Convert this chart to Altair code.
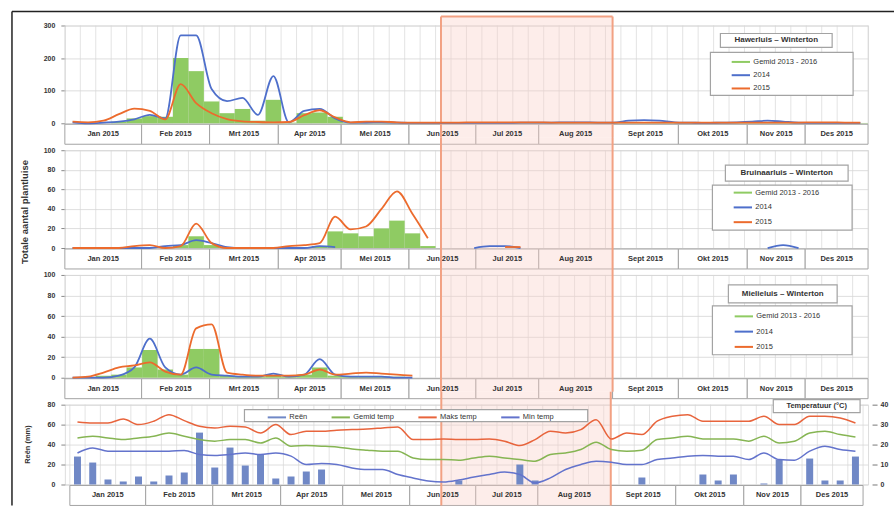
import altair as alt
import pandas as pd

# ---------------- data ----------------
weeks = list(range(52))
week_edges = list(range(53))
months = ["Jan 2015", "Feb 2015", "Mrt 2015", "Apr 2015", "Mei 2015", "Jun 2015",
          "Jul 2015", "Aug 2015", "Sept 2015", "Okt 2015", "Nov 2015", "Des 2015"]
month_edges = [0, 4.97, 9.37, 13.82, 17.89, 22.28, 26.61, 30.68, 35.46, 39.72, 44.18, 47.93, 52.0]
highlight = [24.35, 35.46]

series_names = ["Gemid 2013 - 2016", "2014", "2015"]
weather_names = ["Reën", "Gemid temp", "Maks temp", "Min temp"]

haw_gem = [0, 0, 0, 5, 15, 22, 20, 200, 160, 67, 31, 44, 8, 72, 2, 31, 33, 20, 2, 2,
           2, 1, 1, 1, 1, 1, 1, 1, 1, 1, 1, 1, 2, 2, 2, 2, 3, 3, 2, 2,
           1, 1, 1, 2, 3, 3, 2, 1, 1, 1, 1, 1]
haw_2014 = [3, 0, 2, 5, 12, 26, 15, 270, 270, 105, 68, 78, 26, 145, 3, 38, 44, 15, 2, 2,
            3, 2, 1, 1, 1, 1, 1, 1, 1, 2, 2, 2, 3, 3, 2, 2, 8, 10, 8, 3,
            2, 1, 2, 3, 5, 8, 5, 2, 1, 1, 1, 1]
haw_2015 = [5, 3, 8, 28, 45, 38, 12, 120, 62, 31, 13, 6, 4, 3, 4, 25, 40, 18, 3, 5,
            5, 3, 2, 2, 2, 2, 3, 3, 3, 3, 3, 2, 2, 2, 2, 2, 2, 2, 2, 2,
            2, 2, 2, 2, 2, 2, 2, 2, 3, 3, 2, 2]

bru_gem = [0, 0, 0, 0, 0, 0, 0, 3, 12, 3, 0, 0, 0, 0, 0, 0, 2, 17, 15, 12,
           20, 28, 15, 2, 0, 0, 0, 0, 0, 0, 0, 0, 0, 0, 0, 0, 0, 0, 0, 0,
           0, 0, 0, 0, 0, 0, 0, 0, 0, 0, 0, 0]
bru_2014 = [0, 0, 0, 0, 0, 0, 2, 3, 8, 5, 1, 0, 0, 0, 0, 0, 2, 1,
            None, None, None, None, None, None, None, None,
            0, 2, 2, 0,
            None, None, None, None, None, None, None, None, None, None, None, None, None, None, None,
            0, 3, 0, None, None, None, None]
bru_2015 = [0, 0, 0, 0, 2, 3, 0, 2, 25, 5, 0, 0, 0, 0, 2, 3, 5, 32, 19, 22,
            40, 58, 35, 10, None, None, None, None, 1, 1,
            None, None, None, None, None, None, None, None, None, None, None,
            None, None, None, None, None, None, None, None, None, None, None]

mie_gem = [0, 0, 2, 3, 10, 27, 8, 3, 28, 28, 2, 1, 1, 2, 1, 3, 10, 2, 1, 1,
           1, 1, 0, 0, 0, 0, 0, 0, 0, 0, 0, 0, 0, 0, 0, 0, 0, 0, 0, 0,
           0, 0, 0, 0, 0, 0, 0, 0, 0, 0, 0, 0]
mie_2014 = [0, 0, 0, 2, 10, 38, 10, 3, 10, 3, 2, 1, 1, 4, 1, 3, 18, 3, 1, 1,
            1, 0, 0] + [None] * 29
mie_2015 = [0, 1, 5, 10, 12, 15, 6, 3, 48, 52, 5, 3, 2, 2, 2, 3, 8, 3, 4, 5,
            4, 3, 2] + [None] * 29

rain = [28, 22, 5, 3, 8, 3, 9, 12, 52, 17, 37, 19, 30, 6, 8, 13, 15, 0, 0, 0,
        0, 0, 0, 0, 0, 4, 0, 0, 0, 20, 4, 0, 0, 0, 0, 0, 0, 7, 0, 0,
        0, 10, 4, 10, 0, 1, 25, 0, 26, 4, 4, 28]
t_max = [31.3, 30.8, 30.8, 32.8, 30.0, 31.7, 35.0, 32.0, 29.2, 28.3,
         29.2, 28.8, 25.8, 30.0, 25.0, 26.7, 26.7, 27.2, 27.5, 27.8,
         28.3, 28.8, 22.5, 22.5, 22.8, 22.5, 22.5, 22.8, 21.7, 19.5,
         22.5, 26.7, 25.8, 27.5, 32.5, 22.8, 25.8, 25.0, 31.7, 34.2,
         35.0, 31.7, 31.7, 31.7, 31.7, 34.2, 30.0, 30.0, 34.2, 34.2, 33.3, 30.8]
t_gem = [23.3, 24.2, 23.3, 22.5, 23.3, 24.2, 25.8, 24.2, 22.5, 21.7,
         22.5, 22.5, 20.8, 23.3, 19.2, 19.5, 19.2, 18.8, 17.8, 17.2,
         16.7, 16.7, 13.3, 12.5, 12.5, 12.2, 13.3, 14.2, 13.3, 12.5,
         11.7, 15.0, 15.8, 17.5, 21.2, 17.5, 16.7, 17.2, 22.5, 23.3,
         24.2, 22.8, 22.8, 22.8, 21.7, 24.2, 20.8, 21.7, 25.8, 26.7, 25.0, 23.8]
t_min = [15.8, 18.3, 16.7, 16.7, 16.7, 16.7, 16.7, 17.0, 15.0, 14.5,
         15.0, 15.8, 15.0, 15.8, 14.2, 10.0, 10.5, 10.0, 8.3, 7.5,
         7.5, 5.0, 3.3, 1.7, 1.2, 2.2, 3.8, 5.0, 6.2, 5.0,
         0.8, 3.3, 7.5, 10.0, 11.7, 11.2, 10.0, 10.0, 12.5, 13.3,
         14.2, 14.5, 14.2, 14.2, 12.5, 15.8, 12.5, 12.2, 16.7, 19.2, 17.5, 16.7]

# ---------------- style ----------------
FONT = "Liberation Sans"
W = 805
GRID = "#d6d6d6"
BORDER = "#a3a3a3"
TXT = "#333333"
GREEN_BAR = "#8fcb63"
BLUE = "#4e6fcb"
ORANGE = "#ec6b2d"
RAIN = "#7088c6"
T_GEM = "#86b553"
T_MAX = "#e8643c"
T_MIN = "#6373cc"
PINK_FILL = "#f9cfc9"
PINK_EDGE = "#f2a183"

xs = alt.Scale(domain=[0, 52], nice=False, zero=False)
one = pd.DataFrame({"k": [0]})


def segments(values, name):
    rows, seg, prev = [], 0, False
    for w, v in zip(weeks, values):
        if v is None:
            if prev:
                seg += 1
            prev = False
            continue
        rows.append({"week": w, "value": v, "reeks": name, "seg": f"{name}-{seg}"})
        prev = True
    return rows


def decor(h, top, bottom, with_top):
    layers = []
    edge_df = pd.DataFrame({"edge": week_edges})
    layers.append(alt.Chart(edge_df).mark_rule(color=GRID, strokeWidth=0.7).encode(
        x=alt.X("edge:Q", scale=xs, axis=None), y=alt.value(0), y2=alt.value(h)))
    mdf = pd.DataFrame({"maand": months, "start": month_edges[:-1], "end": month_edges[1:]})
    layers.append(alt.Chart(mdf).mark_rect(fill="white", stroke=BORDER, strokeWidth=1).encode(
        x=alt.X("start:Q", scale=xs, axis=None), x2="end:Q",
        y=alt.value(h + 1), y2=alt.value(h + 21)))
    hdf = pd.DataFrame({"start": [highlight[0]], "end": [highlight[1]]})
    layers.append(alt.Chart(hdf).mark_rect(fill=PINK_FILL, opacity=0.38).encode(
        x=alt.X("start:Q", scale=xs, axis=None), x2="end:Q",
        y=alt.value(top), y2=alt.value(h + bottom)))
    layers.append(alt.Chart(mdf).transform_calculate(mid="(datum.start + datum.end) / 2").mark_text(
        font=FONT, fontSize=7.5, fontWeight="bold", color=TXT).encode(
        x=alt.X("mid:Q", scale=xs, axis=None), y=alt.value(h + 11), text="maand:N"))
    for f in ["start", "end"]:
        layers.append(alt.Chart(hdf).mark_rule(color=PINK_EDGE, strokeWidth=2).encode(
            x=alt.X(f + ":Q", scale=xs, axis=None), y=alt.value(top), y2=alt.value(h + bottom)))
    if with_top:
        layers.append(alt.Chart(hdf).mark_rule(color=PINK_EDGE, strokeWidth=2).encode(
            x=alt.X("start:Q", scale=xs, axis=None), x2="end:Q", y=alt.value(top)))
    return layers


def box_text(text, x0, x1, y0, y1, size=8):
    df = pd.DataFrame({"t": [text]})
    rect = alt.Chart(df).mark_rect(fill="white", stroke=BORDER, strokeWidth=1.2).encode(
        x=alt.value(x0), x2=alt.value(x1), y=alt.value(y0), y2=alt.value(y1))
    txt = alt.Chart(df).mark_text(font=FONT, fontSize=size, fontWeight="bold", color=TXT).encode(
        x=alt.value((x0 + x1) / 2), y=alt.value((y0 + y1) / 2), text="t:N")
    return [rect, txt]


def left_axis(values):
    return alt.Axis(values=values, grid=True, gridColor=GRID, gridWidth=0.8, domain=False,
                    ticks=True, tickSize=4, tickColor="#888", labelFont=FONT, labelFontSize=7,
                    labelFontWeight="bold", labelColor=TXT, labelPadding=6, title=None)


def aphid_panel(name, gem, v14, v15, ymax, ystep, h, top, bottom, with_top,
                tb, lb, lx, ly, rp, extra=None):
    ysc = alt.Scale(domain=[0, ymax], nice=False)
    yax = left_axis(list(range(0, ymax + 1, ystep)))
    leg = alt.Legend(orient="none", legendX=lx, legendY=ly, title=None,
                     symbolType="M-1.5,0L1.5,0", symbolSize=150, symbolStrokeWidth=2,
                     labelFont=FONT, labelFontSize=7.5, labelColor=TXT, labelOffset=5,
                     rowPadding=rp, padding=0)
    color = alt.Color("reeks:N", scale=alt.Scale(domain=series_names,
                                                 range=[GREEN_BAR, BLUE, ORANGE]), legend=leg)
    bars_df = pd.DataFrame({"week": weeks, "value": gem})
    bars = alt.Chart(bars_df).transform_calculate(
        w2="datum.week + 1", base="0").mark_bar(color=GREEN_BAR).encode(
        x=alt.X("week:Q", scale=xs, axis=None), x2="w2:Q",
        y=alt.Y("value:Q", scale=ysc, axis=yax), y2="base:Q")
    lines_df = pd.DataFrame(segments(v14, "2014") + segments(v15, "2015"))
    lines = alt.Chart(lines_df).transform_calculate(wc="datum.week + 0.5").mark_line(
        strokeWidth=1.8, interpolate="monotone").encode(
        x=alt.X("wc:Q", scale=xs, axis=None),
        y=alt.Y("value:Q", scale=ysc, axis=yax),
        color=color, detail="seg:N")
    layers = decor(h, top, bottom, with_top) + [bars, lines]
    layers += [alt.Chart(one).mark_rect(fill="white", stroke=BORDER, strokeWidth=1.2).encode(
        x=alt.value(lb[0]), x2=alt.value(lb[1]), y=alt.value(lb[2]), y2=alt.value(lb[3]))]
    layers += box_text(name, *tb)
    if extra:
        layers += extra
    return alt.layer(*layers).properties(width=W, height=h)


# frame and shared title
frame = [
    alt.Chart(one).mark_rule(color="#222", strokeWidth=1.5).encode(
        x=alt.value(-53), x2=alt.value(831), y=alt.value(-14)),
    alt.Chart(one).mark_rule(color="#222", strokeWidth=1.5).encode(
        x=alt.value(-53), y=alt.value(-14), y2=alt.value(481)),
]
main_title = [alt.Chart(pd.DataFrame({"t": ["Totale aantal plantluise"]})).mark_text(
    font=FONT, fontSize=9.5, fontWeight="bold", color=TXT, angle=270).encode(
    x=alt.value(-40), y=alt.value(62), text="t:N")]

p1 = aphid_panel("Hawerluis \u2013 Winterton", haw_gem, haw_2014, haw_2015, 300, 100, 98,
                 -9, 14, True, (657, 769, 8, 22), (647, 790, 27, 70), 670, 29, 1.3, extra=frame)
p2 = aphid_panel("Bruinaarluis \u2013 Winterton", bru_gem, bru_2014, bru_2015, 100, 20, 98,
                 -13, 14, False, (662, 785, 15, 31), (649, 789, 35, 80), 672, 35, 2.8,
                 extra=main_title)
p3 = aphid_panel("Mielieluis \u2013 Winterton", mie_gem, mie_2014, mie_2015, 100, 20, 103,
                 -13, 14, False, (665, 774, 10, 28), (649, 789, 31, 80), 673, 34, 3.3)

# weather panel
H4 = 80
rain_df = pd.DataFrame({"week": weeks, "rain": rain})
temp_df = pd.DataFrame({
    "week": weeks * 3,
    "temp": t_gem + t_max + t_min,
    "reeks": ["Gemid temp"] * 52 + ["Maks temp"] * 52 + ["Min temp"] * 52,
})
wleg = alt.Legend(orient="none", legendX=205, legendY=5, title=None, direction="horizontal",
                  columns=4, columnPadding=20, symbolType="M-1.5,0L1.5,0", symbolSize=150,
                  symbolStrokeWidth=2, labelFont=FONT, labelFontSize=7.5, labelColor=TXT,
                  labelOffset=5, padding=0)
wcolor = alt.Color("reeks:N", scale=alt.Scale(domain=weather_names,
                                              range=[RAIN, T_GEM, T_MAX, T_MIN]), legend=wleg)
rain_bars = alt.Chart(rain_df).transform_calculate(wc="datum.week + 0.5").mark_bar(
    size=7, color=RAIN).encode(
    x=alt.X("wc:Q", scale=xs, axis=None),
    y=alt.Y("rain:Q", scale=alt.Scale(domain=[0, 80], nice=False),
            axis=left_axis([0, 20, 40, 60, 80])))
temp_lines = alt.Chart(temp_df).transform_calculate(wc="datum.week + 0.5").mark_line(
    strokeWidth=1.5, interpolate="monotone").encode(
    x=alt.X("wc:Q", scale=xs, axis=None),
    y=alt.Y("temp:Q", scale=alt.Scale(domain=[0, 40], nice=False),
            axis=alt.Axis(orient="right", values=[0, 10, 20, 30, 40], grid=False, domain=False,
                          ticks=True, tickSize=5, tickColor="#777", offset=4, labelPadding=3,
                          labelFont=FONT, labelFontSize=7, labelFontWeight="bold",
                          labelColor=TXT, title=None)),
    color=wcolor)
rain_title = alt.Chart(pd.DataFrame({"t": ["Reën (mm)"]})).mark_text(
    font=FONT, fontSize=7.5, fontWeight="bold", color=TXT, angle=270).encode(
    x=alt.value(-37), y=alt.value(40), text="t:N")
w_layers = decor(H4, -13, 21, False) + [rain_bars, temp_lines]
w_layers += [alt.Chart(one).mark_rect(fill="white", stroke=BORDER, strokeWidth=1.2).encode(
    x=alt.value(180), x2=alt.value(524), y=alt.value(5), y2=alt.value(17))]
w_layers += box_text("Temperatuur (\u00b0C)", 710, 797, -5, 8, size=7.5)
w_layers += [rain_title]
p4 = alt.layer(*w_layers).resolve_scale(y="independent").properties(width=W, height=H4)

chart = alt.vconcat(p1, p2, p3, p4, spacing=27, bounds="flush").resolve_scale(
    x="independent", y="independent", color="independent").resolve_legend(
    color="independent").properties(
    padding={"left": 10, "top": 9, "right": 0, "bottom": 0}).configure_view(
    stroke=BORDER, strokeWidth=1.5).configure(background="white")

chart.save("out.html", embed_options={"renderer": "svg", "actions": False})
